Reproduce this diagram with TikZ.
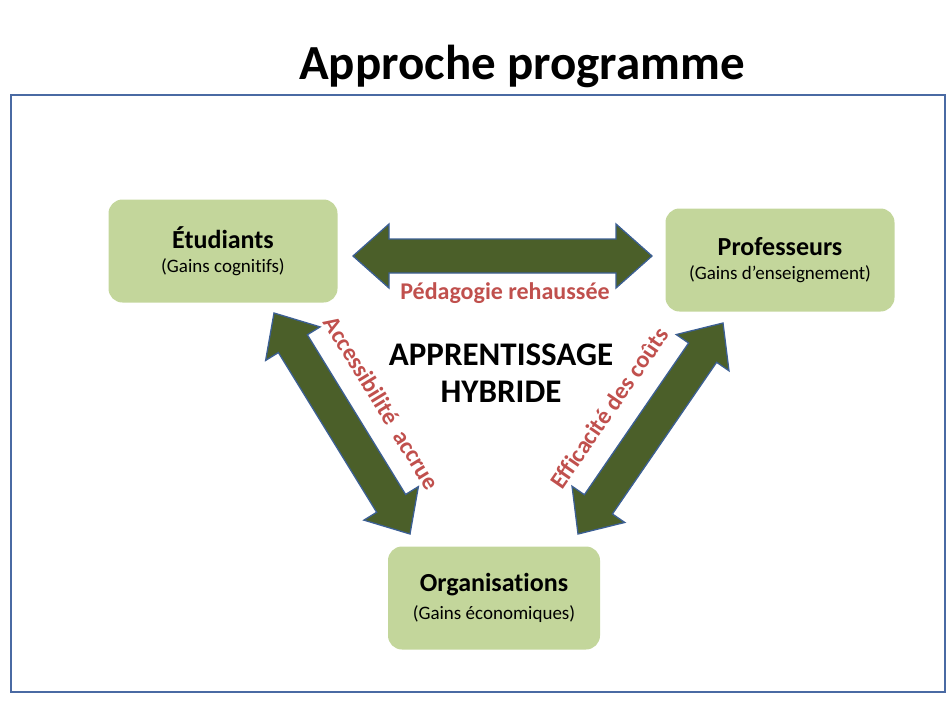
\documentclass[tikz,border=0pt]{standalone}
\usepackage{fontspec}
\setmainfont{Carlito}[Ligatures=NoCommon]
\usetikzlibrary{calc}

\definecolor{boxgreen}{HTML}{C3D69B}
\definecolor{arrowgreen}{HTML}{4B5F29}
\definecolor{arrowblue}{HTML}{3C5F94}
\definecolor{frameblue}{HTML}{4A6AA3}
\definecolor{labelred}{HTML}{C0504D}

\newcommand{\polename}[1]{{\fontsize{26}{28}\selectfont\bfseries #1}}
\newcommand{\polegain}[1]{{\fontsize{19}{22}\selectfont #1}}

\tikzset{
  pole/.style={fill=boxgreen, rounded corners=14pt, minimum width=229pt,
    minimum height=103pt, align=center, inner sep=0pt},
  fatarrow/.style={fill=arrowgreen, draw=arrowblue, line width=1.3pt, line join=miter},
  gainlabel/.style={text=labelred, font=\fontsize{24}{26}\selectfont\bfseries}
}

% double-headed block arrow between two named points
\def\headlen{36pt}
\def\headhalf{32pt}
\def\shafthalf{17pt}
\newcommand{\fatarrow}[2]{%
  \filldraw[fatarrow] (#1)
    -- ($(#1)!\headlen!(#2)!\headhalf!90:(#2)$)
    -- ($(#1)!\headlen!(#2)!\shafthalf!90:(#2)$)
    -- ($(#2)!\headlen!(#1)!\shafthalf!-90:(#1)$)
    -- ($(#2)!\headlen!(#1)!\headhalf!-90:(#1)$)
    -- (#2)
    -- ($(#2)!\headlen!(#1)!\headhalf!90:(#1)$)
    -- ($(#2)!\headlen!(#1)!\shafthalf!90:(#1)$)
    -- ($(#1)!\headlen!(#2)!\shafthalf!-90:(#2)$)
    -- ($(#1)!\headlen!(#2)!\headhalf!-90:(#2)$)
    -- cycle;}

\begin{document}
\begin{tikzpicture}[x=1pt, y=-1pt]
    \useasboundingbox (0,0) rectangle (952,726);

    % Title and frame
    \node[font=\fontsize{49}{54}\selectfont\bfseries] (title) at (522,66) {Approche programme};
    \draw[frameblue, line width=2pt] (11,95) rectangle (945,692);

    % The three poles
    \node[pole] (etud) at (223,251)
      {\polename{Étudiants}\\[9pt]\polegain{(Gains cognitifs)}};
    \node[pole] (prof) at (780,260)
      {\polename{Professeurs}\\[9pt]\polegain{(Gains d’enseignement)}};
    \node[pole, minimum width=212pt] (orga) at (494,598)
      {\polename{Organisations}\\[9pt]\polegain{(Gains économiques)}};

    % Centre text
    \node[align=center, font=\fontsize{33}{37}\selectfont\bfseries] (hybride) at (501,373)
      {APPRENTISSAGE\\HYBRIDE};

    % Arrow ends
    \coordinate (etud-e) at (353,256);
    \coordinate (prof-w) at (652,256);
    \coordinate (etud-s) at (274,313);
    \coordinate (orga-nw) at (410,534);
    \coordinate (prof-s) at (723,323);
    \coordinate (orga-ne) at (578,534);

    % Block arrows
    \fatarrow{etud-e}{prof-w}
    \fatarrow{etud-s}{orga-nw}
    \fatarrow{orga-ne}{prof-s}

    % Arrow labels
    \node[gainlabel] (peda) at (505,293) {Pédagogie rehaussée};
    \node[gainlabel, rotate=-58.5] (acces) at (382,403) {Accessibilité\ \ accrue};
    \node[gainlabel, rotate=55.4] (effic) at (609,408) {Efficacité des coûts};
\end{tikzpicture}
\end{document}
